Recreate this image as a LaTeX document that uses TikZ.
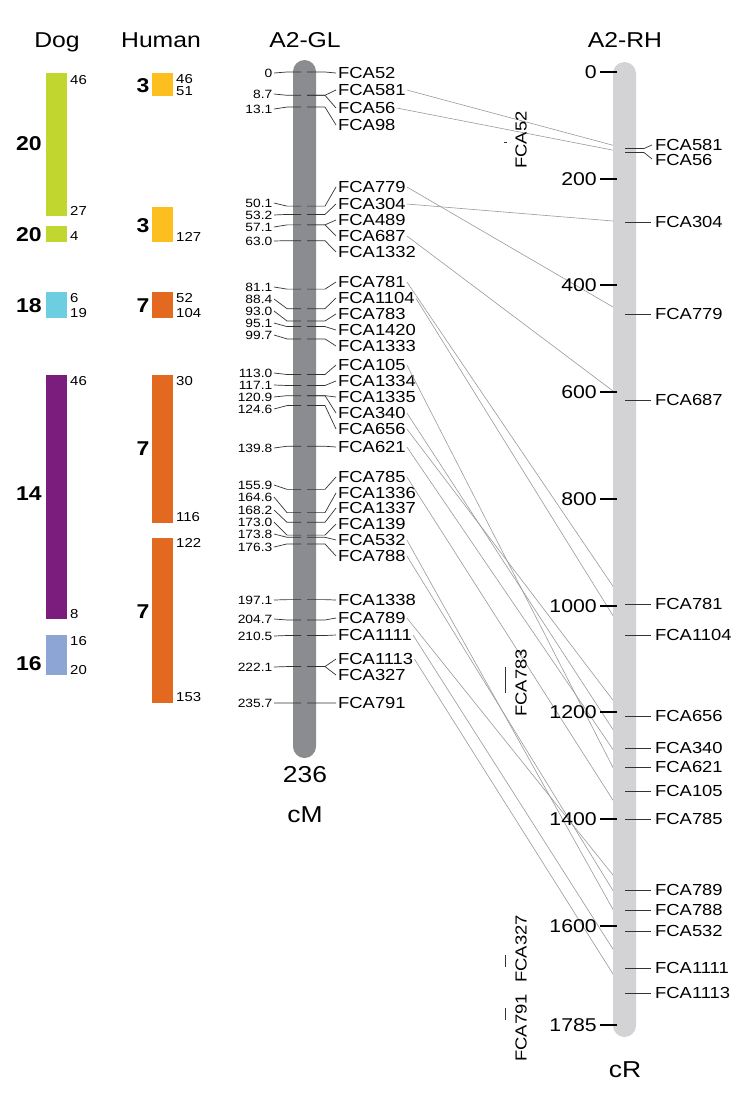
\documentclass[tikz,border=0pt]{standalone}
\usepackage{fontspec}
\setmainfont{Liberation Sans}[FakeStretch=1.15]
\usepackage{tikz}

\definecolor{cfatwenty}{HTML}{C1D72F}
\definecolor{cfaeighteen}{HTML}{6DCDE1}
\definecolor{cfafourteen}{HTML}{7B1D7C}
\definecolor{cfasixteen}{HTML}{8DA5D5}
\definecolor{hsathree}{HTML}{FDBF1F}
\definecolor{hsaseven}{HTML}{E2691F}
\definecolor{glgray}{HTML}{8B8C8F}
\definecolor{rhgray}{HTML}{D3D3D5}

\newcommand\fhead{\fontsize{21.5}{24}\selectfont}
\newcommand\fmark{\fontsize{16}{18}\selectfont}
\newcommand\fnum{\fontsize{12}{13}\selectfont}
\newcommand\fscale{\fontsize{18.5}{20}\selectfont}
\newcommand\fbig{\fontsize{23}{26}\selectfont}
\newcommand\fbold{\fontsize{20}{22}\selectfont\bfseries}
\newcommand\fsmall{\fontsize{13}{15}\selectfont}

\begin{document}
\begin{tikzpicture}[x=1pt,y=-1pt,
  lead/.style={draw=black!80,line width=0.7pt},
  conn/.style={draw=black!40,line width=0.6pt},
  mk/.style={inner sep=1pt,font=\fmark},
  cmnum/.style={inner sep=0.5pt,font=\fnum,anchor=east},
  smallnum/.style={inner sep=1pt,font=\fsmall,anchor=west},
  chrnum/.style={inner sep=1pt,font=\fbold}]
\useasboundingbox (0,0) rectangle (750,1109);

\node[font=\fhead,anchor=base] (hdog) at (57,47) {Dog};
\node[font=\fhead,anchor=base] (hhum) at (161,47) {Human};
\node[font=\fhead,anchor=base] (hgl) at (305,47) {A2-GL};
\node[font=\fhead,anchor=base] (hrh) at (625,47) {A2-RH};

\foreach \col/\ya/\yb/\num/\ym [count=\i] in {cfatwenty/73/216/20/144, cfatwenty/226/242/20/235,
    cfaeighteen/292/318/18/306, cfafourteen/375/619/14/494, cfasixteen/635/675/16/664}{
  \fill[\col] (46,\ya) rectangle (67,\yb);
  \node[chrnum] (dog\i) at (29,\ym) {\num};
}
\foreach \v/\y [count=\i] in {46/80,27/211,4/236,6/298,19/313,46/381,8/614,16/641,20/670}
  \node[smallnum] (dn\i) at (69,\y) {\v};

\foreach \col/\ya/\yb/\num/\ym [count=\i] in {hsathree/73/96/3/86, hsathree/207/242/3/226,
    hsaseven/292/318/7/306, hsaseven/375/523/7/449, hsaseven/538/703/7/612}{
  \fill[\col] (152,\ya) rectangle (173,\yb);
  \node[chrnum] (hum\i) at (143,\ym) {\num};
}
\foreach \v/\y [count=\i] in {46/79,51/91,127/237,52/298,104/313,30/381,116/517,122/543,153/697}
  \node[smallnum] (hn\i) at (175,\y) {\v};

\fill[glgray,rounded corners=11.5pt] (293,60) rectangle (316,758);
\node[font=\fbig,anchor=base] (glend) at (305,782) {236};
\node[font=\fbig,anchor=base] (glunit) at (305,822) {cM};

\foreach \cm/\ly [count=\i] in {0/73, 8.7/94, 13.1/109, 50.1/203, 53.2/215, 57.1/227, 63.0/241,
    81.1/287, 88.4/299, 93.0/311, 95.1/323, 99.7/335, 113.0/373, 117.1/385, 120.9/397, 124.6/409,
    139.8/448, 155.9/485, 164.6/497, 168.2/510, 173.0/522, 173.8/534, 176.3/547, 197.1/600,
    204.7/619, 210.5/636, 222.1/667, 235.7/703}{
  \draw[lead] (274,\ly) -- (287,{72+\cm*2.677}) -- (301,{72+\cm*2.677});
  \node[cmnum] (cm\i) at (273,\ly) {\cm};
}

\foreach \cm/\ly/\nm in {0/73/52, 8.7/90/581, 8.7/108/56, 13.1/125/98, 50.1/187/779, 53.2/204/304,
    57.1/220/489, 57.1/236/687, 63.0/252/1332, 81.1/282/781, 88.4/298/1104, 93.0/314/783,
    95.1/330/1420, 99.7/346/1333, 113.0/365/105, 117.1/381/1334, 120.9/397/1335, 120.9/413/340,
    124.6/429/656, 139.8/447/621, 155.9/477/785, 164.6/493/1336, 168.2/508/1337, 173.0/524/139,
    173.8/540/532, 176.3/556/788, 197.1/600/1338, 204.7/618/789, 210.5/635/1111, 222.1/659/1113,
    222.1/675/327, 235.7/703/791}{
  \draw[lead] (307,{72+\cm*2.677}) -- (325,{72+\cm*2.677}) -- (336,\ly);
  \node[mk,anchor=west] (gl\nm) at (337,\ly) {FCA\nm};
}

\coordinate (rh581) at (625,148.5);
\coordinate (rh56) at (625,152.5);
\foreach \nm/\ty in {304/222, 779/314, 687/400, 781/604, 1104/635, 656/716, 340/748, 621/767,
    105/791, 785/819, 789/890, 788/910, 532/931, 1111/968, 1113/993}
  \coordinate (rh\nm) at (625,\ty);

\foreach \nm in {581,56,304,779,687,781,1104,656,340,621,105,785,789,788,532,1111,1113}
  \draw[conn] (gl\nm.east) -- (rh\nm);

\fill[rhgray,rounded corners=11.5pt] (613,62) rectangle (636,1037);
\node[font=\fbig,anchor=base] (rhunit) at (625,1077) {cR};

\foreach \v in {0,200,400,600,800,1000,1200,1400,1600,1785}{
  \draw[black,line width=2pt] (600,{72+\v*0.5337}) -- (617,{72+\v*0.5337});
  \node[font=\fscale,anchor=east,inner sep=1pt] (sc\v) at (598,{72+\v*0.5337}) {\v};
}

\draw[lead] (rh581) -- (644,148.5) -- (652,145);
\draw[lead] (rh56) -- (644,152.5) -- (652,159);
\node[mk,anchor=west] (rl581) at (654,145) {FCA581};
\node[mk,anchor=west] (rl56) at (654,160) {FCA56};
\foreach \nm/\ty in {304/222, 779/314, 687/400, 781/604, 1104/635, 656/716, 340/748, 621/767,
    105/791, 785/819, 789/890, 788/910, 532/931, 1111/968, 1113/993}{
  \draw[lead] (rh\nm) -- (651,\ty);
  \node[mk,anchor=west] (rl\nm) at (654,\ty) {FCA\nm};
}

\node[mk,rotate=90] (un52) at (521,140) {FCA52};
\node[mk,rotate=90] (un783) at (521,683) {FCA783};
\node[mk,rotate=90] (un327) at (521,949) {FCA327};
\node[mk,rotate=90] (un791) at (521,1028) {FCA791};
\draw[lead] (503.5,142) -- (506.5,142);
\draw[lead] (505,667) -- (505,693);
\draw[lead] (505,955) -- (505,967);
\draw[lead] (505,1008) -- (505,1020);
\end{tikzpicture}
\end{document}
